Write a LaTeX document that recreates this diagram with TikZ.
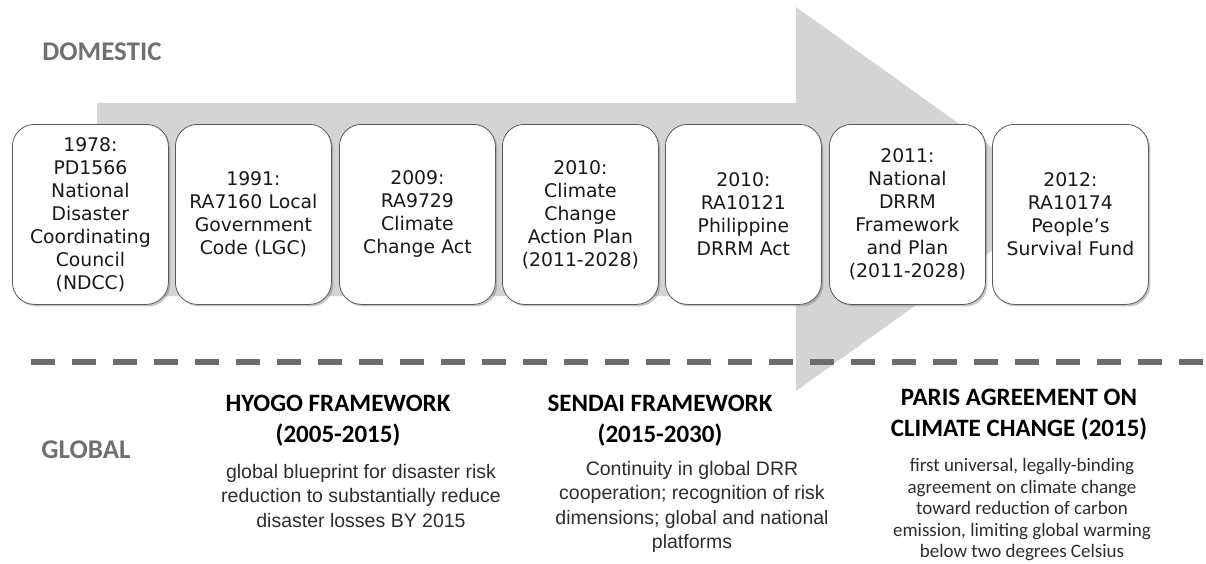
\documentclass[tikz,border=0pt]{standalone}
\usepackage{fontspec}
\setmainfont{Carlito}
\newfontfamily\boxfont{DejaVu Sans}
\newfontfamily\arialfont{Liberation Sans}
\usetikzlibrary{shadows}

\definecolor{arrowgray}{RGB}{212,212,212}
\definecolor{labelgray}{RGB}{112,112,112}
\definecolor{dashgray}{RGB}{108,108,108}
\definecolor{bodygray}{RGB}{45,45,45}

\tikzset{
  evt/.style={draw=black!65, line width=0.8pt, fill=white, rounded corners=22pt,
    minimum width=156pt, minimum height=180pt, anchor=north west, inner sep=2pt,
    align=center, text width=152pt, text=black!90,
    font=\boxfont\fontsize{18.8}{23}\selectfont,
    drop shadow={shadow xshift=2pt, shadow yshift=-2pt, opacity=0.45}},
  side/.style={text=labelgray, font=\bfseries\fontsize{27}{30}\selectfont, inner sep=0pt},
  head/.style={align=center, inner sep=0pt, font=\bfseries\fontsize{25}{31}\selectfont},
  desc/.style={align=center, inner sep=0pt, text=bodygray, font=\arialfont\fontsize{19.5}{24.5}\selectfont},
  descb/.style={align=center, inner sep=0pt, text=bodygray, font=\fontsize{19}{21.5}\selectfont}
}

\begin{document}
\begin{tikzpicture}[x=1pt,y=-1pt]
    \useasboundingbox (0,0) rectangle (1206,563);

    % big arrow behind the timeline
    \fill [arrowgray] (97,103) -- (796,103) -- (796,7) -- (1064,199) -- (796,391) -- (796,296) -- (97,296) -- cycle;

    % divider
    \draw [dashgray, line width=6pt, dash pattern=on 24pt off 17pt] (31,362) -- (1206,362);

    % Text Node
    \node [side] (dom) at (102,52) {DOMESTIC};
    % Text Node
    \node [side] (glob) at (86,450) {GLOBAL};

    % timeline boxes
    \node [evt] (y1978) at (12,124) {1978:\\PD1566\\National\\Disaster\\Coordinating\\Council\\(NDCC)};
    \node [evt] (y1991) at (175,124) {1991:\\RA7160 Local\\Government\\Code (LGC)};
    \node [evt] (y2009) at (339,124) {2009:\\RA9729\\Climate\\Change Act};
    \node [evt] (y2010a) at (502,124) {2010:\\Climate\\Change\\Action Plan\\(2011-2028)};
    \node [evt] (y2010b) at (665,124) {2010:\\RA10121\\Philippine\\DRRM Act};
    \node [evt] (y2011) at (829,124) {2011:\\National\\DRRM\\Framework\\and Plan\\(2011-2028)};
    \node [evt] (y2012) at (992,124) {2012:\\RA10174\\People’s\\Survival Fund};

    % Text Node
    \node [head] (hyogo) at (338,421) {HYOGO FRAMEWORK\\(2005-2015)};
    \node [desc] (hyogod) at (361,496) {global blueprint for disaster risk\\reduction to substantially reduce\\disaster losses BY 2015};
    % Text Node
    \node [head] (sendai) at (660,421) {SENDAI FRAMEWORK\\(2015-2030)};
    \node [desc] (sendaid) at (692,507) {Continuity in global DRR\\cooperation; recognition of risk\\dimensions; global and national\\platforms};
    % Text Node
    \node [head] (paris) at (1019,415) {PARIS AGREEMENT ON\\CLIMATE CHANGE (2015)};
    \node [descb] (parisd) at (1022,510) {first universal, legally-binding\\agreement on climate change\\toward reduction of carbon\\emission, limiting global warming\\below two degrees Celsius};

\end{tikzpicture}
\end{document}
